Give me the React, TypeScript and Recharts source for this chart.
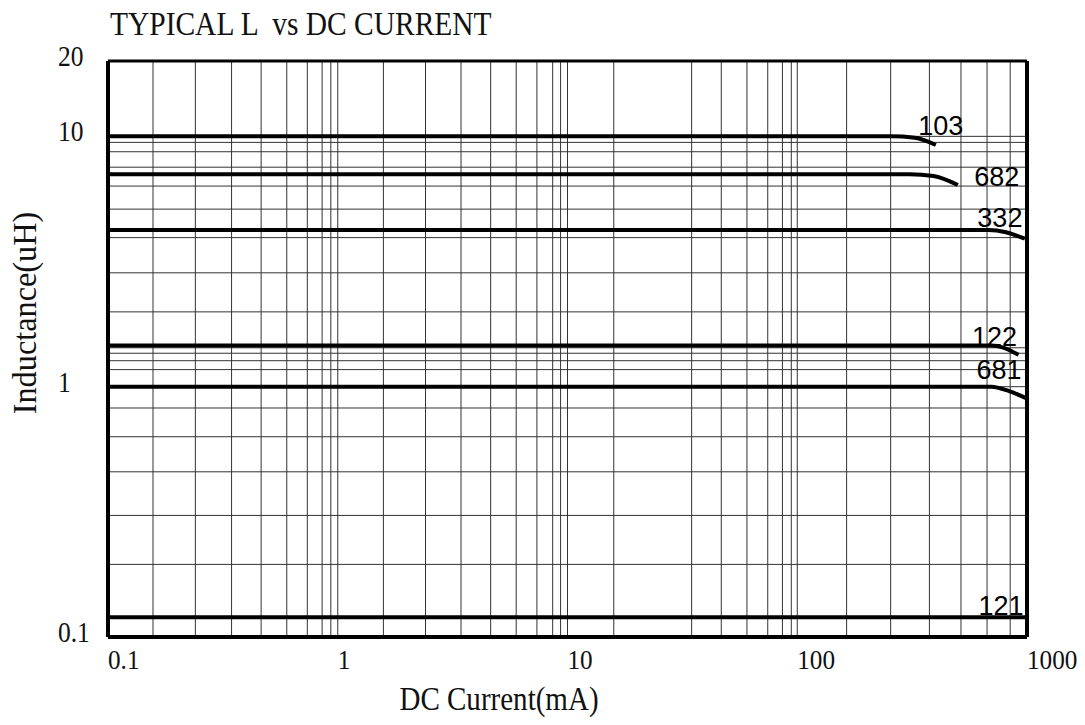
import { LineChart, Line, XAxis, YAxis, ReferenceLine } from "recharts";

// axis ticks
const xTicks = [0.1, 1, 10, 100, 1000];
const yTicks = [0.1, 1, 10, 20];

// grid lines as printed on the sheet (mA / uH)
const xGridValues = [
  0.1, 0.157, 0.24, 0.345, 0.464, 0.6, 0.737, 0.855, 0.933, 1,
  1.58, 2.41, 3.44, 4.63, 5.98, 7.36, 8.62, 9.33, 10,
  15.9, 34.7, 46.7, 60.4, 74.4, 86.2, 94.2, 100,
  164, 255, 376, 516, 670, 845,
];
const yGridValues = [
  10, 9.46, 8.68, 7.53, 6.33, 5.12, 3.94, 2.85, 1.99, 1.43, 1.36, 1.27, 1.17,
  1, 0.822, 0.631, 0.457, 0.306, 0.195,
];

// curves: DC current (mA) and inductance (uH)
const seriesNames = ["103", "682", "332", "122", "681", "121"];
const current103 = [0.1, 255, 325, 401];
const induct103 = [10, 10, 9.87, 9.24];
const current682 = [0.1, 308, 392, 500];
const induct682 = [7.05, 7.05, 6.95, 6.39];
const current332 = [0.1, 678, 811, 979];
const induct332 = [4.23, 4.23, 4.14, 3.9];
const current122 = [0.1, 699, 794, 919];
const induct122 = [1.46, 1.46, 1.43, 1.34];
const current681 = [0.1, 699, 836, 990];
const induct681 = [1.0, 1.0, 0.96, 0.9];
const current121 = [0.1, 1000];
const induct121 = [0.12, 0.12];

const zip = (xs: number[], ys: number[]) => xs.map((x, i) => ({ i: x, l: ys[i] }));

const seriesData: Record<string, { i: number; l: number }[]> = {
  "103": zip(current103, induct103),
  "682": zip(current682, induct682),
  "332": zip(current332, induct332),
  "122": zip(current122, induct122),
  "681": zip(current681, induct681),
  "121": zip(current121, induct121),
};

// where each part number sits relative to the end of its curve (px)
const labelOffset: Record<string, [number, number]> = {
  "103": [5, -10],
  "682": [39, 1],
  "332": [-25, -12],
  "122": [-24, -9],
  "681": [-27, -19],
  "121": [-26, -2],
};

const serif = "'Liberation Serif', 'Times New Roman', serif";
const sans = "'Liberation Sans', Arial, sans-serif";

const XTick = ({ x, y, payload }: any) => (
  <g transform={`translate(${x},${y + 32}) scale(0.9,1)`}>
    <text x={0} y={0} textAnchor="start" fontFamily={serif} fontSize={28} fill="#111">
      {String(payload.value)}
    </text>
  </g>
);

const YTick = ({ x, y, payload }: any) => (
  <g transform={`translate(${x - 50},${y + 5}) scale(0.85,1)`}>
    <text x={0} y={0} textAnchor="start" fontFamily={serif} fontSize={30} fill="#111">
      {String(payload.value)}
    </text>
  </g>
);

const makeLabel = (name: string, count: number) => (props: any) => {
  const { x, y, index } = props;
  if (index !== count - 1) return null;
  const [dx, dy] = labelOffset[name];
  return (
    <text key={name} x={x + dx} y={y + dy} textAnchor="middle" fontFamily={sans} fontSize={27} fill="#000">
      {name}
    </text>
  );
};

export default function App() {
  const W = 1077;
  const H = 710;
  return (
    <div style={{ position: "relative", width: W, height: H, background: "#fff" }}>
      <LineChart width={W} height={H} margin={{ top: 53, right: 58, bottom: 31, left: 50 }}>
        <XAxis
          dataKey="i"
          type="number"
          scale="log"
          domain={[0.1, 1000]}
          allowDataOverflow
          ticks={xTicks}
          interval={0}
          height={50}
          tickSize={0}
          tickMargin={0}
          tickLine={false}
          axisLine={{ stroke: "#000", strokeWidth: 4 }}
          tick={<XTick />}
        />
        <YAxis
          type="number"
          scale="log"
          domain={[0.1, 20]}
          allowDataOverflow
          ticks={yTicks}
          interval={0}
          width={50}
          tickSize={0}
          tickMargin={0}
          tickLine={false}
          axisLine={{ stroke: "#000", strokeWidth: 4 }}
          tick={<YTick />}
        />
        {xGridValues.map((v) => (
          <ReferenceLine key={`x${v}`} x={v} stroke="#333" strokeWidth={1} />
        ))}
        {yGridValues.map((v) => (
          <ReferenceLine key={`y${v}`} y={v} stroke="#333" strokeWidth={1} />
        ))}
        <ReferenceLine y={20} stroke="#000" strokeWidth={3} />
        <ReferenceLine x={1000} stroke="#000" strokeWidth={4} />
        {seriesNames.map((name) => (
          <Line
            key={name}
            data={seriesData[name]}
            dataKey="l"
            type="monotone"
            stroke="#000"
            strokeWidth={4}
            dot={false}
            activeDot={false}
            isAnimationActive={false}
            label={makeLabel(name, seriesData[name].length)}
          />
        ))}
      </LineChart>
      {/* titles, in page coordinates */}
      <svg
        width={1085}
        height={725}
        style={{ position: "absolute", left: -8, top: -8, pointerEvents: "none" }}
      >
        <g transform="translate(110,35) scale(0.867,1)">
          <text x={0} y={0} fontFamily={serif} fontSize={34} style={{ whiteSpace: "pre" }} fill="#111">
            TYPICAL L  vs DC CURRENT
          </text>
        </g>
        <g transform="translate(499,710) scale(0.88,1)">
          <text x={0} y={0} textAnchor="middle" fontFamily={serif} fontSize={33} fill="#111">
            DC Current(mA)
          </text>
        </g>
        <g transform="translate(36,313) rotate(-90) scale(0.95,1)">
          <text x={0} y={0} textAnchor="middle" fontFamily={serif} fontSize={34} fill="#111">
            Inductance(uH)
          </text>
        </g>
      </svg>
    </div>
  );
}
